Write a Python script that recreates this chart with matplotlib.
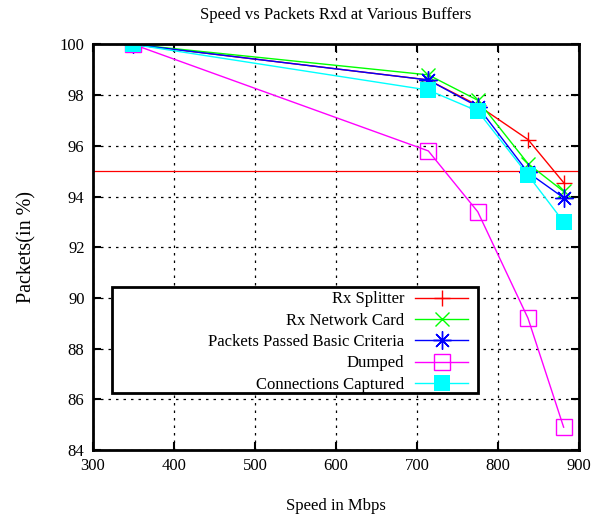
import numpy as np
import matplotlib
matplotlib.use("Agg")
import matplotlib.pyplot as plt
from matplotlib.patches import Rectangle

plt.rcParams['font.family'] = ['Liberation Serif', 'DejaVu Serif']

# Data
speed = [350, 714, 775, 837, 881]
rx_splitter = [100, 98.6, 97.6, 96.25, 94.55]
rx_card = [100, 98.8, 97.8, 95.3, 94.2]
passed = [100, 98.6, 97.55, 94.95, 93.95]
dumped = [100, 95.8, 93.4, 89.2, 84.9]
captured = [100, 98.2, 97.37, 94.85, 93.0]
threshold = 95

xticks = [300, 400, 500, 600, 700, 800, 900]
yticks = [84, 86, 88, 90, 92, 94, 96, 98, 100]

fig = plt.figure(figsize=(6.15, 5.17), dpi=100)
ax = fig.add_axes([0.151, 0.1296, 0.7905, 0.7844])

ax.axhline(threshold, color='#ff0000', lw=0.9)

ax.plot(speed, rx_splitter, color='#ff0000', lw=1, marker='+', ms=12, mew=1,
        label='Rx Splitter')
ax.plot(speed, rx_card, color='#00ff00', lw=1, marker='x', ms=10, mew=1,
        label='Rx Network Card')
ax.plot(speed, passed, color='#0000ff', lw=1, marker=(8, 2, 0), ms=13, mew=1,
        label='Packets Passed Basic Criteria')
ax.plot(speed, dumped, color='#ff00ff', lw=1, marker='s', ms=11, mew=1,
        mfc='none', label='Dumped')
ax.plot(speed, captured, color='#00ffff', lw=1, marker='s', ms=11, mew=0,
        label='Connections Captured')

ax.set_xlim(300, 900)
ax.set_ylim(84, 100)
ax.set_xticks(xticks)
ax.set_yticks(yticks)
ax.tick_params(direction='in', length=6, width=1.5, top=True, right=True,
               labelsize=12, pad=6)
ax.grid(True, color='black', ls=(0, (2, 4)), lw=0.9)
for s in ax.spines.values():
    s.set_linewidth(2)

ax.set_title('Speed vs Packets Rxd at Various Buffers', fontsize=12, pad=18)
ax.set_xlabel('Speed in Mbps', fontsize=12, labelpad=17)
ax.set_ylabel('Packets(in %)', fontsize=14.5, labelpad=17)

# legend box, wider than its contents, entries right aligned
box = Rectangle((0.039, 0.14), 0.753, 0.262, transform=ax.transAxes,
                facecolor='white', edgecolor='black', lw=2, zorder=4.9)
ax.add_patch(box)
leg = ax.legend(loc='upper right', bbox_to_anchor=(0.80, 0.424),
                markerfirst=False, fontsize=12, handlelength=3.2,
                labelspacing=0.32, borderpad=0.3, handletextpad=0.65,
                frameon=False)

fig.savefig('out.png', dpi=100)
